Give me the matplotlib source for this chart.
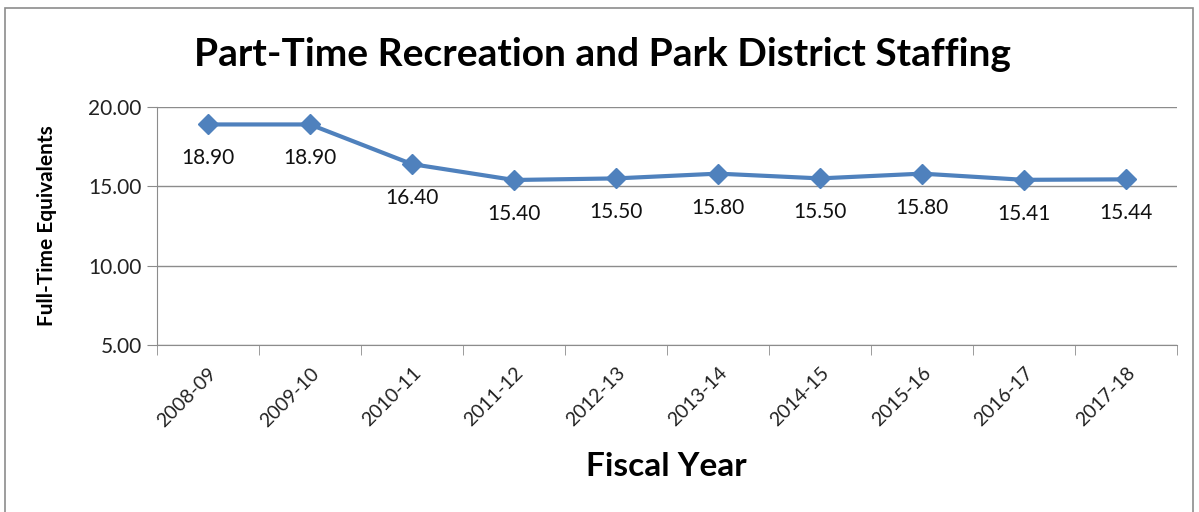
import matplotlib.pyplot as plt
from matplotlib.patches import Rectangle

years = ["2008-09", "2009-10", "2010-11", "2011-12", "2012-13",
         "2013-14", "2014-15", "2015-16", "2016-17", "2017-18"]
fte = [18.90, 18.90, 16.40, 15.40, 15.50, 15.80, 15.50, 15.80, 15.41, 15.44]
yticks = [5, 10, 15, 20]

plt.rcParams['font.family'] = ['Lato', 'DejaVu Sans']

fig = plt.figure(figsize=(11.99, 5.12), dpi=100)
fig.patches.append(Rectangle((5 / 1199, -0.1), 1188 / 1199, 1 - 8 / 512 + 0.1,
                             transform=fig.transFigure, fill=False,
                             edgecolor='#8c8c8c', linewidth=1.2))

ax = fig.add_axes([157 / 1199, 1 - 345 / 512, 1020 / 1199, 238 / 512])
x = list(range(len(years)))
ax.plot(x, fte, color='#4F81BD', linewidth=3, marker='D', markersize=10,
        markerfacecolor='#4F81BD', markeredgecolor='#4F81BD')

for i, v in enumerate(fte):
    ax.annotate(f"{v:.2f}", (i, v), xytext=(0, -34), textcoords='offset pixels',
                ha='center', va='center', fontsize=15, color='#111111')

ax.set_xlim(-0.5, len(years) - 0.5)
ax.set_ylim(5, 20)
ax.set_yticks(yticks)
ax.set_yticklabels([f"{t:.2f}" for t in yticks], fontsize=15, color='#222222')
ax.grid(axis='y', color='#8c8c8c', linewidth=1)
ax.set_axisbelow(True)

ax.set_xticks(x)
ax.set_xticklabels(years, rotation=45, ha='right', rotation_mode='anchor',
                   fontsize=14, color='#222222')
ax.set_xticks([i - 0.5 for i in range(len(years) + 1)], minor=True)
ax.tick_params(axis='x', which='major', length=0, pad=14)
ax.tick_params(axis='x', which='minor', length=7, color='#8c8c8c')
ax.tick_params(axis='y', length=7, color='#8c8c8c', pad=4)

for s in ['top', 'right']:
    ax.spines[s].set_visible(False)
for s in ['left', 'bottom']:
    ax.spines[s].set_color('#8c8c8c')

fig.text(47 / 1199, 1 - 226 / 512, "Full-Time Equivalents", rotation=90,
         ha='center', va='center', fontsize=15, fontweight='bold')
fig.text(666 / 1199, 1 - 467 / 512, "Fiscal Year",
         ha='center', va='center', fontsize=24, fontweight='bold')
fig.text(603 / 1199, 1 - 54 / 512, "Part-Time Recreation and Park District Staffing",
         ha='center', va='center', fontsize=28, fontweight='bold')

fig.savefig("out.png", dpi=100, facecolor='white')
